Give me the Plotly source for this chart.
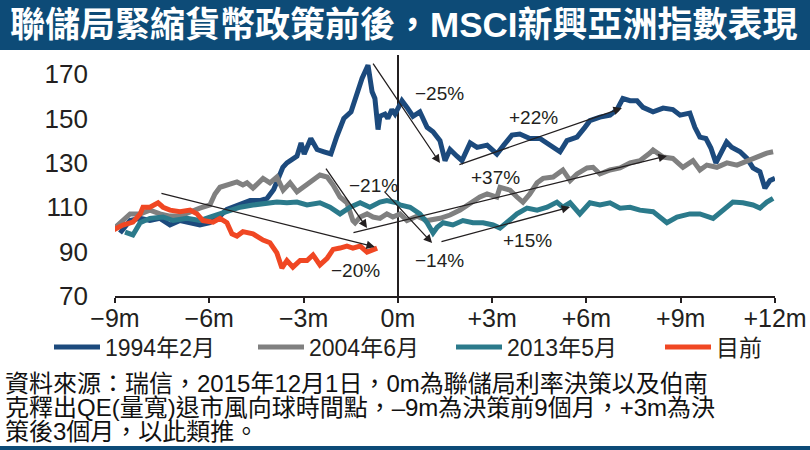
import plotly.graph_objects as go

# ---------------- data ----------------
tick_vals = [-9, -6, -3, 0, 3, 6, 9, 12]
tick_text = ["−9m", "−6m", "−3m", "0m", "+3m", "+6m", "+9m", "+12m"]
y_ticks = [70, 90, 110, 130, 150, 170]

series_names = ["1994年2月", "2004年6月", "2013年5月", "目前"]

blue_m = [-8.84, -8.52, -8.20, -7.89, -7.57, -7.25, -6.93, -6.61, -6.30, -5.98, -5.66, -5.44, -5.02, -4.70,
          -4.39, -4.16, -3.95, -3.85, -3.66, -3.53, -3.21, -3.08, -2.98, -2.77, -2.57, -2.35, -2.13, -1.94,
          -1.72, -1.49, -1.30, -1.14, -0.95, -0.82, -0.73, -0.63, -0.57, -0.41, -0.32, -0.19, -0.09, 0.13,
          0.29, 0.48, 0.70, 0.93, 1.12, 1.34, 1.50, 1.66, 1.88, 2.04, 2.30, 2.52, 2.84, 3.15, 3.37, 3.63,
          3.88, 4.20, 4.52, 4.84, 5.16, 5.38, 5.70, 5.95, 6.11, 6.43, 6.75, 6.97, 7.16, 7.39, 7.61, 7.80,
          8.12, 8.44, 8.75, 8.98, 9.29, 9.45, 9.61, 9.80, 9.96, 10.12, 10.31, 10.46, 10.62, 10.89, 11.11,
          11.30, 11.52, 11.68, 11.84, 12.0]
blue_v = [98.4, 104, 105, 104, 105, 102, 104, 103, 102, 103, 106, 109, 111, 113,
          113, 114, 118, 121, 128, 130, 133, 139, 134, 141, 136, 135, 134, 142,
          150, 153, 162, 168, 174, 162, 159, 145, 151, 152, 150, 154, 152, 158,
          155, 151, 153, 146, 144, 140, 131, 136, 133, 131, 139, 137, 138, 134, 138, 142.5,
          143, 141, 141, 138, 135, 140, 141.6, 146, 149, 150.6, 151.5, 154, 159, 158, 158, 155,
          153, 154.7, 154, 151.5, 152.4, 146, 141.6, 141, 136.7, 130, 135.8, 139.4, 137, 135, 132,
          127.7, 126, 118.6, 122, 123]

gray_m = [-9.06, -8.84, -8.52, -8.20, -7.89, -7.57, -7.25, -6.93, -6.61, -6.30, -5.98, -5.82, -5.66,
          -5.44, -5.12, -4.93, -4.80, -4.61, -4.29, -4.07, -3.85, -3.65, -3.43, -3.21, -3.02, -2.80,
          -2.48, -2.25, -2.06, -1.84, -1.62, -1.43, -1.36, -1.20, -0.98, -0.79, -0.57, -0.35, -0.16,
          0.07, 0.29, 0.61, 0.93, 1.34, 1.66, 1.98, 2.30, 2.61, 2.84, 3.15, 3.25, 3.57, 3.79, 3.98,
          4.20, 4.43, 4.62, 4.94, 5.25, 5.48, 5.70, 6.02, 6.21, 6.43, 6.75, 7.07, 7.39, 7.70, 8.02,
          8.12, 8.44, 8.75, 9.07, 9.39, 9.61, 9.83, 10.15, 10.47, 10.79, 11.11, 11.43, 11.74, 11.94]
gray_v = [100, 103, 107, 107, 108.7, 107, 106, 106, 108, 109.6, 111, 116, 119,
          120, 121.4, 120, 121, 118.6, 123, 121, 123.6, 117.7, 121, 117, 119, 121,
          124.5, 123.6, 120, 114.6, 112, 104, 103, 105.6, 107, 105.6, 105, 107, 105.6,
          107, 104, 106, 104, 105, 106.5, 108.7, 112, 114.6, 116, 114.6, 119, 117.7, 114.6, 112.3,
          116, 121, 123, 123.6, 126.8, 122, 125, 127.7, 128, 125, 126.8, 127.7, 130, 131, 134.4,
          135.8, 132.6, 132, 128, 131, 126.8, 129, 128, 130, 129, 131, 132.6, 134.4, 135]

teal_m = [-8.68, -8.43, -8.20, -7.89, -7.47, -7.15, -6.71, -6.30, -5.98, -5.66, -5.34, -5.02, -4.61,
          -4.16, -3.85, -3.53, -3.21, -2.89, -2.48, -2.16, -1.84, -1.52, -1.20, -0.89, -0.57, -0.35,
          -0.03, 0.07, 0.39, 0.70, 0.93, 1.12, 1.25, 1.44, 1.75, 2.07, 2.39, 2.71, 3.03, 3.25, 3.47,
          3.79, 4.11, 4.43, 4.75, 5.06, 5.25, 5.48, 5.79, 6.11, 6.43, 6.75, 7.07, 7.39, 7.70, 8.12,
          8.56, 8.88, 9.29, 9.61, 10.03, 10.34, 10.66, 10.98, 11.30, 11.52, 11.74, 11.94]
teal_v = [98.8, 97.5, 103, 105, 105.6, 104, 105, 104, 105.6, 107, 108.7, 110, 111,
          112, 112.3, 112, 112.3, 111, 112, 110, 107, 110, 112, 110, 112.3, 113,
          112, 111, 110, 107, 103, 98.4, 101, 103, 102, 104, 103, 103, 102, 100.6, 103,
          107, 109.6, 108.7, 110, 112.3, 110, 112, 107, 112, 111, 112, 109.6, 110, 108.7, 108,
          103, 105.6, 107, 107, 105, 108.7, 112.3, 112, 111, 109.6, 112.3, 114]

red_m = [-9.06, -8.75, -8.43, -8.20, -8.11, -7.89, -7.63, -7.47, -7.25, -6.93, -6.61, -6.39, -6.20,
         -5.88, -5.66, -5.44, -5.28, -5.12, -4.93, -4.61, -4.29, -4.07, -3.85, -3.69, -3.53, -3.34,
         -3.11, -2.89, -2.70, -2.48, -2.25, -2.06, -1.84, -1.62, -1.43, -1.20, -0.98, -0.79, -0.66]
red_v = [99.7, 102, 103.3, 107, 110, 110, 112, 110, 108.7, 108, 108.7, 107, 104,
         103.3, 105, 103, 98, 97, 99, 98, 95.2, 94, 89.4, 82.6, 86, 83,
         86, 86, 88.5, 84, 87, 91, 91.6, 92.5, 91.6, 92.5, 89.8, 90.7, 91.6]

# arrows: (head month, head value, tail month, tail value)
arrow_head_m = [-0.73, 1.34, 7.13, -0.98, 8.56, 1.09, 5.48]
arrow_head_v = [92.1, 129.9, 154.7, 100.6, 133.1, 93.9, 110.1]
arrow_tail_m = [-7.57, -0.82, 1.91, -2.32, -1.46, -0.47, 1.34]
arrow_tail_v = [116.4, 175.4, 129.0, 128.1, 98.4, 117.7, 94.3]

label_text = ["−20%", "−25%", "+22%", "−21%", "+37%", "−14%", "+15%"]
label_m = [-1.36, 1.34, 4.33, -0.79, 3.12, 1.34, 4.14]
label_v = [81.7, 161.4, 150.6, 120.0, 123.6, 86.2, 95.2]

title_text = "聯儲局緊縮貨幣政策前後，MSCI新興亞洲指數表現"
footer_lines = [
    "資料來源：瑞信，2015年12月1日，0m為聯儲局利率決策以及伯南",
    "克釋出QE(量寬)退市風向球時間點，–9m為決策前9個月，+3m為決",
    "策後3個月，以此類推。",
]

# ---------------- figure ----------------
colors = ["#1c4a7d", "#808080", "#2b7a8b", "#f04723"]
FONT = "Liberation Sans, Arial, Noto Sans CJK TC, sans-serif"
TXT = "#231f20"

W, H = 810, 450
L, R, T, B = 115, 35, 55, 154
pw, ph = W - L - R, H - T - B


def px(xp):
    return (xp - L) / pw


def py(yp):
    return (H - B - yp) / ph


legend_ids = ["legend", "legend2", "legend3", "legend4"]
legend_left_px = [49, 253, 451, 660]

fig = go.Figure()
for name, xs, ys, c, lid in zip(series_names,
                                [blue_m, gray_m, teal_m, red_m],
                                [blue_v, gray_v, teal_v, red_v], colors, legend_ids):
    fig.add_trace(go.Scatter(x=xs, y=ys, mode="lines", name=name, legend=lid,
                             line=dict(color=c, width=5, shape="linear")))

for hm, hv, tm, tv in zip(arrow_head_m, arrow_head_v, arrow_tail_m, arrow_tail_v):
    fig.add_annotation(x=hm, y=hv, ax=tm, ay=tv, xref="x", yref="y", axref="x", ayref="y",
                       text="", showarrow=True, arrowhead=2, arrowsize=1.3, arrowwidth=1.3,
                       arrowcolor=TXT)

for t, m, v in zip(label_text, label_m, label_v):
    fig.add_annotation(x=m, y=v, xref="x", yref="y", text=t, showarrow=False,
                       font=dict(family=FONT, size=19, color=TXT))

# title bar
fig.add_shape(type="rect", xref="paper", yref="paper", x0=px(0), x1=px(W), y0=py(50), y1=py(0),
              fillcolor="#0d4b77", line=dict(width=0), layer="below")
fig.add_annotation(xref="paper", yref="paper", x=px(8), y=py(24), xanchor="left", yanchor="middle",
                   text="<b>" + title_text + "</b>", showarrow=False,
                   font=dict(family="Liberation Sans, Noto Sans CJK TC, sans-serif", size=35, color="white"))
# bottom rule
fig.add_shape(type="rect", xref="paper", yref="paper", x0=px(0), x1=px(W), y0=py(450), y1=py(446),
              fillcolor="#0d4b77", line=dict(width=0))

for i, line in enumerate(footer_lines):
    fig.add_annotation(xref="paper", yref="paper", x=px(3), y=py(383 + 24.3 * i), xanchor="left",
                       yanchor="middle", text=line, showarrow=False,
                       font=dict(family=FONT, size=24, color="#111111"))

legend_common = dict(orientation="h", yanchor="middle", xanchor="left",
                     font=dict(family=FONT, size=23, color=TXT), itemwidth=46,
                     bgcolor="rgba(0,0,0,0)", borderwidth=0)
legend_layout = {lid: dict(legend_common, x=px(lx), y=py(347))
                 for lid, lx in zip(legend_ids, legend_left_px)}

fig.update_layout(
    width=W, height=H,
    margin=dict(l=L, r=R, t=T, b=B, pad=0, autoexpand=False),
    paper_bgcolor="white", plot_bgcolor="white",
    font=dict(family=FONT, color=TXT),
    showlegend=True,
    xaxis=dict(range=[-9, 12], tickvals=tick_vals, ticktext=tick_text, showgrid=False,
               showline=True, linecolor="#231f20", linewidth=1.5, ticks="outside", ticklen=5,
               tickcolor="#231f20", tickwidth=1.5, zeroline=True, zerolinecolor="#231f20",
               zerolinewidth=1.5, tickfont=dict(family=FONT, size=25, color=TXT),
               ticklabelstandoff=-6, fixedrange=True),
    yaxis=dict(range=[70, 178.6], tickvals=y_ticks, showgrid=False, showline=False, zeroline=False,
               ticks="", ticklabelstandoff=26, tickfont=dict(family=FONT, size=26, color=TXT),
               fixedrange=True),
    **legend_layout,
)

fig.write_html("out.html", config={"displayModeBar": False},
               post_script="document.body.style.margin='0';document.body.style.overflow='hidden';")
